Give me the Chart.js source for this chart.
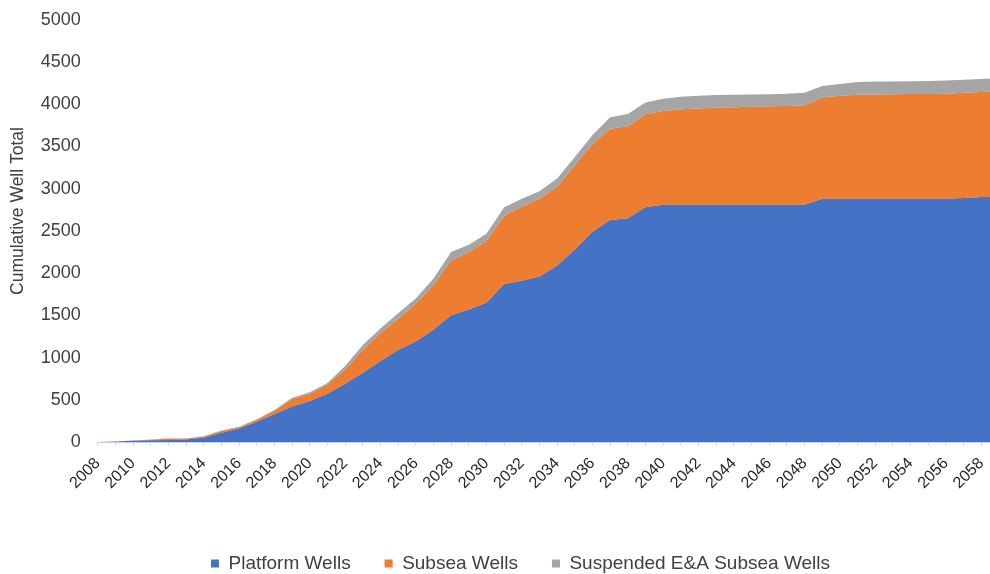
<!DOCTYPE html>
<html>
<head>
<meta charset="utf-8">
<script src="https://cdn.jsdelivr.net/npm/chart.js@4/dist/chart.umd.min.js"></script>
<style>
  html, body { margin: 0; padding: 0; background: #fff; overflow: hidden; }
  #wrap { width: 1000px; height: 574px; }
</style>
</head>
<body>
<div id="wrap"><canvas id="myChart" width="1000" height="574"></canvas></div>
<script>
const years = [2008, 2009, 2010, 2011, 2012, 2013, 2014, 2015, 2016, 2017,
  2018, 2019, 2020, 2021, 2022, 2023, 2024, 2025, 2026, 2027,
  2028, 2029, 2030, 2031, 2032, 2033, 2034, 2035, 2036, 2037,
  2038, 2039, 2040, 2041, 2042, 2043, 2044, 2045, 2046, 2047,
  2048, 2049, 2050, 2051, 2052, 2053, 2054, 2055, 2056, 2057,
  2058, 2059];

const platformWells = [0, 5, 15, 20, 25, 30, 50, 110, 160, 240,
  330, 420, 485, 570, 690, 820, 960, 1090, 1190, 1330,
  1500, 1570, 1650, 1870, 1910, 1960, 2090, 2280, 2490, 2630,
  2650, 2780, 2810, 2810, 2810, 2810, 2810, 2810, 2810, 2810,
  2810, 2880, 2880, 2880, 2880, 2880, 2880, 2880, 2880, 2890,
  2900, 2905];

const subseaWells = [0, 0, 3, 8, 15, 10, 15, 20, 15, 20,
  40, 90, 85, 110, 170, 270, 330, 370, 450, 530,
  650, 680, 730, 810, 880, 920, 930, 1000, 1040, 1080,
  1090, 1100, 1110, 1130, 1140, 1150, 1155, 1160, 1165, 1170,
  1175, 1200, 1220, 1232, 1235, 1238, 1240, 1242, 1245, 1245,
  1245, 1245];

const suspendedWells = [0, 0, 0, 2, 2, 2, 3, 5, 5, 10,
  10, 15, 20, 20, 40, 60, 55, 65, 60, 75,
  100, 85, 85, 100, 90, 90, 100, 95, 105, 135,
  145, 140, 145, 150, 150, 148, 147, 145, 143, 145,
  150, 135, 140, 150, 153, 152, 152, 153, 155, 155,
  155, 158];

const yTicks = { min: 0, max: 5000, step: 500 };
const yTitle = "Cumulative Well Total";

const textColor = "#404040";

const data = {
  labels: years,
  datasets: [{
    label: "Platform Wells",
    data: platformWells,
    backgroundColor: "#4472C4",
    fill: "origin"
  },
  {
    label: "Subsea Wells",
    data: subseaWells,
    backgroundColor: "#ED7D31",
    fill: "-1"
  },
  {
    label: "Suspended E&A Subsea Wells",
    data: suspendedWells,
    backgroundColor: "#A5A5A5",
    fill: "-1"
  }]
};

// the legend sits a bit right of the page centre in the original
const legendShift = {
  id: "legendShift",
  afterLayout(chart) {
    chart.legend.left += 21;
    chart.legend.right += 21;
  }
};

// y title sits above the middle of the axis, so draw it by hand
const axisTitle = {
  id: "axisTitle",
  afterDraw(chart) {
    const ctx = chart.ctx;
    ctx.save();
    ctx.translate(18, 211);
    ctx.rotate(-Math.PI / 2);
    ctx.font = "17.5px 'Liberation Sans', Arial";
    ctx.fillStyle = textColor;
    ctx.textAlign = "center";
    ctx.textBaseline = "middle";
    ctx.fillText(yTitle, 0, 0);
    ctx.restore();
  }
};

// config
const config = {
  type: "line",
  data,
  plugins: [legendShift, axisTitle],
  options: {
    responsive: false,
    animation: false,
    layout: {
      padding: { left: 0, right: 1, top: 7, bottom: -9 }
    },
    elements: {
      point: { radius: 0 },
      line: { borderWidth: 0, tension: 0 }
    },
    plugins: {
      tooltip: { enabled: false },
      legend: {
        position: "bottom",
        labels: {
          boxWidth: 8,
          boxHeight: 8,
          padding: 34,
          color: textColor,
          font: { family: "Liberation Sans, Arial", size: 19 }
        }
      }
    },
    scales: {
      x: {
        offset: false,
        grid: {
          drawOnChartArea: false,
          drawTicks: true,
          tickLength: 4,
          color: "#d9d9d9"
        },
        border: { color: "#d0d0d0" },
        ticks: {
          autoSkip: false,
          maxRotation: 45,
          minRotation: 45,
          padding: 8,
          color: "#262626",
          font: { family: "Liberation Sans, Arial", size: 16 },
          callback: function (value, index) {
            const y = years[index];
            return y % 2 === 0 ? String(y) : "";
          }
        },
        afterFit: (scale) => {
          scale.height = 78;
          scale.paddingRight = 0; // plot runs off the right edge like the original
        }
      },
      y: {
        stacked: true,
        min: yTicks.min,
        max: yTicks.max,
        grid: { display: false },
        border: { display: false },
        ticks: {
          stepSize: yTicks.step,
          padding: 9,
          color: textColor,
          font: { family: "Liberation Sans, Arial", size: 18 },
          callback: (value) => String(value)
        },
        afterFit: (scale) => { scale.width = 97.7; }
      }
    }
  }
};

const myChart = new Chart(
  document.getElementById("myChart"),
  config
);
</script>
</body>
</html>
